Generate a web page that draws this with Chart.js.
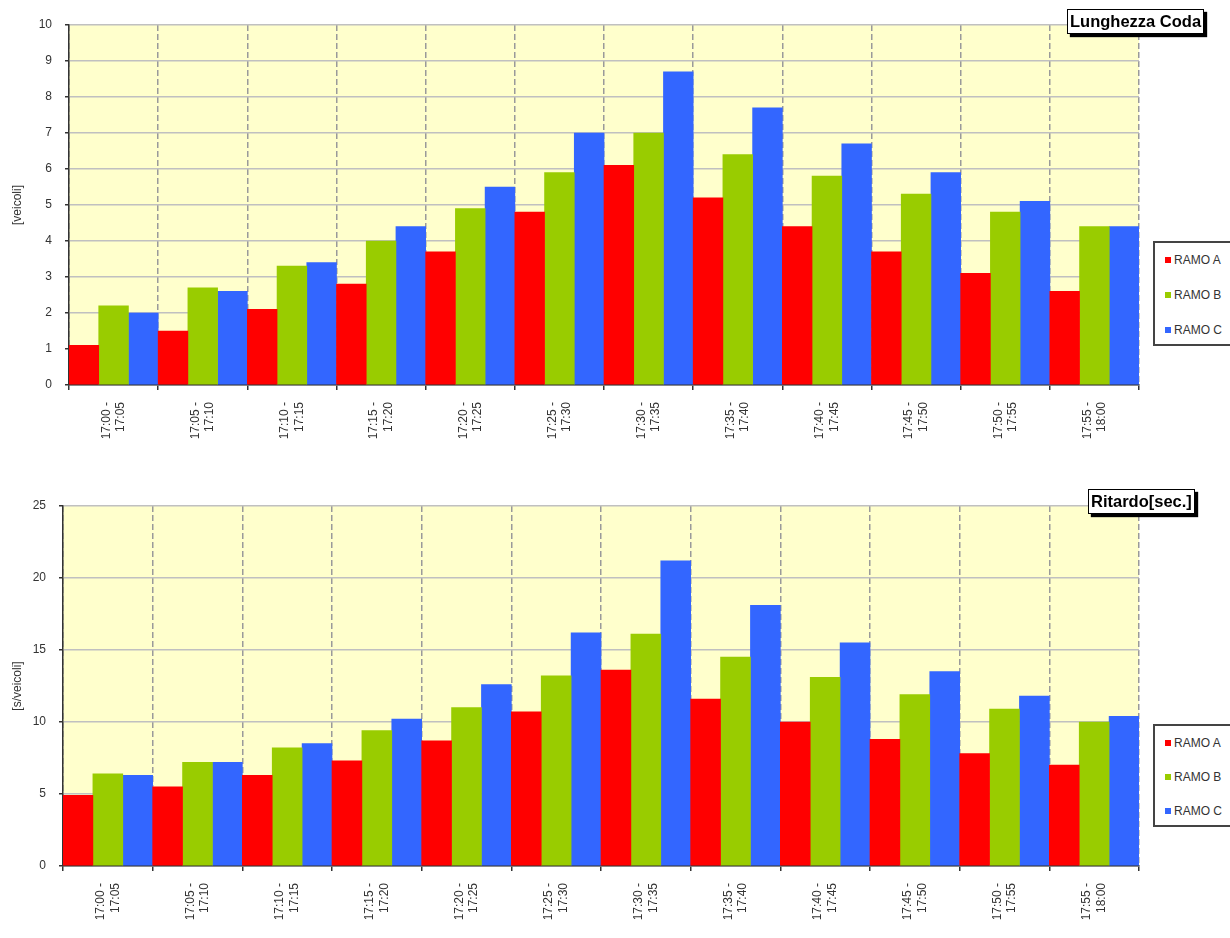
<!DOCTYPE html>
<html>
<head>
<meta charset="utf-8">
<script src="https://cdn.jsdelivr.net/npm/chart.js@4.4.1/dist/chart.umd.min.js"></script>
<style>
  body { margin: 0; background: #fff; font-family: "Liberation Sans", Arial, sans-serif; }
  .blocco { position: absolute; left: 0; width: 1230px; }
  .titolo {
    position: absolute; background: #fff; border: 1px solid #000;
    box-shadow: 3px 3px 1px #000; font-weight: bold; font-size: 16.5px;
    color: #000; line-height: 23px; padding: 0 2px; white-space: nowrap;
  }
  .legenda {
    position: absolute; left: 1153px; width: 100px; border: 2px solid #444;
    background: #fff; box-sizing: border-box; font-size: 12px; color: #333;
  }
  .voce { position: absolute; left: 10px; height: 14px; line-height: 14px; }
  .voce span { display: inline-block; width: 6px; height: 6px; margin-right: 3px; vertical-align: 1px; }
</style>
</head>
<body>

<div class="blocco" style="top:0;height:470px">
  <canvas id="graficoCoda" width="1230" height="470"></canvas>
  <div class="titolo" style="left:1067px;top:9px">Lunghezza Coda</div>
  <div class="legenda" id="legendaCoda" style="top:241px;height:105px"></div>
</div>

<div class="blocco" style="top:470px;height:468px">
  <canvas id="graficoRitardo" width="1230" height="468"></canvas>
  <div class="titolo" style="left:1088px;top:19px">Ritardo[sec.]</div>
  <div class="legenda" id="legendaRitardo" style="top:254px;height:103px"></div>
</div>

<script>
// ======== DATI ========
const orari = ['17:00', '17:05', '17:10', '17:15', '17:20', '17:25', '17:30',
               '17:35', '17:40', '17:45', '17:50', '17:55', '18:00'];
const fasce = orari.slice(0, -1).map((t, i) => [t + ' -', orari[i + 1]]);

const rami = ['RAMO A', 'RAMO B', 'RAMO C'];
const coloriRami = ['#ff0000', '#99cc00', '#3366ff'];

// lunghezza coda [veicoli]
const codaA = [1.1, 1.5, 2.1, 2.8, 3.7, 4.8, 6.1, 5.2, 4.4, 3.7, 3.1, 2.6];
const codaB = [2.2, 2.7, 3.3, 4.0, 4.9, 5.9, 7.0, 6.4, 5.8, 5.3, 4.8, 4.4];
const codaC = [2.0, 2.6, 3.4, 4.4, 5.5, 7.0, 8.7, 7.7, 6.7, 5.9, 5.1, 4.4];

// ritardo [s/veicoli]
const ritardoA = [4.9, 5.5, 6.3, 7.3, 8.7, 10.7, 13.6, 11.6, 10.0, 8.8, 7.8, 7.0];
const ritardoB = [6.4, 7.2, 8.2, 9.4, 11.0, 13.2, 16.1, 14.5, 13.1, 11.9, 10.9, 10.0];
const ritardoC = [6.3, 7.2, 8.5, 10.2, 12.6, 16.2, 21.2, 18.1, 15.5, 13.5, 11.8, 10.4];

const codaMax = 10, codaPasso = 1;
const ritardoMax = 25, ritardoPasso = 5;

// ======== SFONDO AREA GRAFICO ========
const sfondoArea = {
  id: 'sfondoArea',
  beforeDraw(chart) {
    const { ctx, chartArea: a } = chart;
    ctx.save();
    ctx.fillStyle = '#ffffcc';
    ctx.fillRect(a.left, a.top, a.right - a.left, a.bottom - a.top);
    ctx.restore();
  }
};

// ======== LEGENDA HTML ========
function creaLegenda(id, posizioni) {
  const box = document.getElementById(id);
  rami.forEach((r, i) => {
    const v = document.createElement('div');
    v.className = 'voce';
    v.style.top = posizioni[i] + 'px';
    v.innerHTML = `<span style="background:${coloriRami[i]}"></span>${r}`;
    box.appendChild(v);
  });
}

// ======== GRAFICO ========
function creaGrafico(canvasId, serie, max, passo, titoloY, g) {
  const ctx = document.getElementById(canvasId).getContext('2d');
  return new Chart(ctx, {
    type: 'bar',
    data: {
      labels: fasce,
      datasets: serie.map((s, i) => ({
        label: rami[i],
        data: s,
        backgroundColor: coloriRami[i],
        borderWidth: 0,
        categoryPercentage: 1,
        barPercentage: 1
      }))
    },
    options: {
      responsive: false,
      animation: false,
      layout: { padding: { left: 0, top: g.top, right: 1230 - 1139, bottom: 0 } },
      plugins: { legend: { display: false }, tooltip: { enabled: false } },
      scales: {
        x: {
          afterFit: s => { s.height = g.altezzaX; },
          grid: {
            offset: true,
            color: '#9a9a9a',
            lineWidth: 1.5,
            tickLength: 5,
            tickColor: '#333',
            tickBorderDash: []
          },
          border: { color: '#333', width: 1.5, dash: [6, 3] },
          ticks: {
            color: '#333',
            font: { family: 'Liberation Sans', size: 12 },
            minRotation: 90,
            maxRotation: 90,
            padding: 12,
            labelOffset: -7,
            autoSkip: false
          }
        },
        y: {
          min: 0,
          max: max,
          afterFit: s => { s.width = g.sinistra; },
          grid: { color: '#c0c0c0', lineWidth: 1.5, tickLength: 4, tickColor: '#333' },
          border: { color: '#333', width: 1.5 },
          ticks: {
            stepSize: passo,
            color: '#333',
            font: { family: 'Liberation Sans', size: 12 },
            padding: 13
          },
          title: {
            display: true,
            text: titoloY,
            color: '#333',
            font: { family: 'Liberation Sans', size: 12 },
            padding: { top: 10, bottom: 0 }
          }
        }
      }
    },
    plugins: [sfondoArea]
  });
}

creaGrafico('graficoCoda', [codaA, codaB, codaC], codaMax, codaPasso, '[veicoli]',
  { top: 25, altezzaX: 470 - 385, sinistra: 69 });
creaGrafico('graficoRitardo', [ritardoA, ritardoB, ritardoC], ritardoMax, ritardoPasso, '[s/veicoli]',
  { top: 36, altezzaX: 468 - 396, sinistra: 63 });

creaLegenda('legendaCoda', [10, 45, 80]);
creaLegenda('legendaRitardo', [10, 44, 78]);
</script>
</body>
</html>
